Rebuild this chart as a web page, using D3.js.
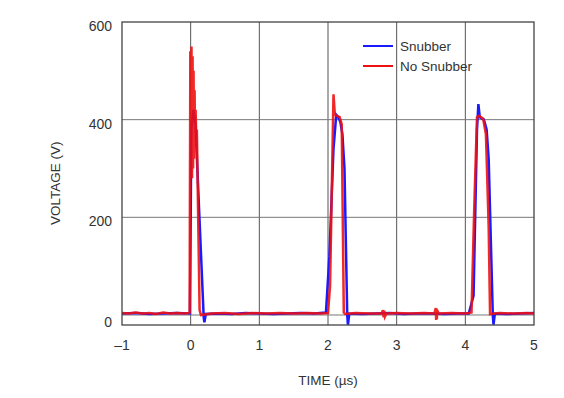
<!DOCTYPE html>
<html>
<head>
<meta charset="utf-8">
<script src="https://cdn.jsdelivr.net/npm/d3@7"></script>
<style>
  body { margin: 0; background: #fff; }
  text { font-family: "Liberation Sans", Arial, sans-serif; fill: #333; }
</style>
</head>
<body>
<svg id="chart" width="564" height="398"></svg>
<script>
// tick values / labels
const xTicks = [-1, 0, 1, 2, 3, 4, 5];
const xTickLabels = ['\u20131', '0', '1', '2', '3', '4', '5'];
const yTicks = [0, 200, 400, 600];

// Snubber trace (time in us, voltage in V)
const blueT = [-1, -0.8, -0.6, -0.4, -0.2, -0.01, 0.01, 0.04, 0.07, 0.19, 0.2, 0.22, 0.4, 0.6, 0.8, 1.0, 1.2, 1.4, 1.6, 1.8,
  1.97, 2.02, 2.08, 2.12, 2.15, 2.18, 2.21, 2.24, 2.28, 2.29, 2.31, 2.5, 2.7, 2.9, 3.1, 3.3, 3.5, 3.7, 3.9,
  4.05, 4.12, 4.17, 4.19, 4.21, 4.27, 4.31, 4.34, 4.40, 4.41, 4.43, 4.6, 4.8, 5];
const blueV = [3, 4, 2, 3, 4, 3, 380, 420, 390, -5, -15, 2, 3, 2, 4, 3, 2, 3, 4, 3,
  5, 120, 340, 410, 405, 395, 370, 300, 0, -20, 3, 2, 3, 4, 2, 3, 3, 2, 3,
  3, 40, 380, 432, 405, 400, 380, 320, 0, -20, 3, 2, 3, 4];

// No Snubber trace
const redT = [-1, -0.9, -0.8, -0.7, -0.6, -0.5, -0.4, -0.3, -0.2, -0.1, -0.03,
  -0.015, -0.005, 0.005, 0.012, 0.02, 0.028, 0.035, 0.042, 0.05, 0.057, 0.064, 0.072, 0.08, 0.09, 0.13, 0.15,
  0.3, 0.5, 0.7, 0.9, 1.1, 1.3, 1.5, 1.7, 1.9, 2.0, 2.03, 2.08, 2.1, 2.17, 2.2, 2.23, 2.25,
  2.4, 2.6, 2.78, 2.8, 2.81, 2.82, 2.83, 2.85, 3.0, 3.2, 3.4, 3.55, 3.57, 3.575, 3.58, 3.585, 3.59, 3.61,
  3.8, 4.0, 4.09, 4.13, 4.17, 4.2, 4.26, 4.3, 4.34, 4.36, 4.5, 4.7, 4.9, 5];
const redV = [4, 3, 5, 3, 4, 2, 5, 3, 4, 3, 4,
  5, 540, 290, 550, 280, 530, 300, 500, 320, 460, 350, 420, 370, 380, 10, 0,
  3, 4, 2, 4, 3, 4, 3, 4, 3, 4, 60, 452, 410, 405, 390, 5, 2,
  4, 3, 3, 10, -5, 9, -3, 3, 4, 3, 4, 3, 14, -10, 13, -8, 10, 3,
  4, 3, 5, 220, 405, 408, 402, 370, 180, 2, 4, 3, 4, 3];

const legendNames = ['Snubber', 'No Snubber'];
const legendColors = ['#1a1aff', '#ee1111'];

const svg = d3.select('#chart');
const margin = { top: 22, right: 30, bottom: 73, left: 122 };
const width = 564 - margin.left - margin.right;
const height = 398 - margin.top - margin.bottom;

const x = d3.scaleLinear().domain([-1, 5]).range([0, width]);
const y = d3.scaleLinear().domain([-20.5, 600]).range([height, 0]);

const g = svg.append('g').attr('transform', `translate(${margin.left},${margin.top})`);

// grid
g.selectAll('.vgrid').data(xTicks.slice(1, -1)).enter().append('line')
  .attr('x1', d => x(d)).attr('x2', d => x(d))
  .attr('y1', 0).attr('y2', height)
  .attr('stroke', '#555').attr('stroke-width', 1);
g.selectAll('.hgrid').data(yTicks.slice(0, -1)).enter().append('line')
  .attr('x1', 0).attr('x2', width)
  .attr('y1', d => y(d)).attr('y2', d => y(d))
  .attr('stroke', '#777').attr('stroke-width', 1);

// traces
const line = d3.line().x(d => x(d[0])).y(d => y(d[1]));
const blueData = blueT.map((t, i) => [t, blueV[i]]);
const redData = redT.map((t, i) => [t, redV[i]]);

g.append('path').datum(blueData).attr('d', line)
  .attr('fill', 'none').attr('stroke', legendColors[0]).attr('stroke-width', 2.5);
g.append('path').datum(redData).attr('d', line)
  .attr('fill', 'none').attr('stroke', legendColors[1]).attr('stroke-width', 2.5)
  .attr('stroke-opacity', 0.9);

// frame
g.append('rect').attr('width', width).attr('height', height)
  .attr('fill', 'none').attr('stroke', '#444').attr('stroke-width', 1.3);

// tick labels
g.selectAll('.xl').data(xTicks).enter().append('text')
  .attr('x', d => x(d)).attr('y', height + 25)
  .attr('text-anchor', 'middle').attr('font-size', 14)
  .text((d, i) => xTickLabels[i]);
g.selectAll('.yl').data(yTicks).enter().append('text')
  .attr('x', -10).attr('y', d => y(d) + (d === 0 ? 12 : 9))
  .attr('text-anchor', 'end').attr('font-size', 14)
  .text(d => d);

// axis titles
g.append('text').attr('x', width / 2).attr('y', height + 60)
  .attr('text-anchor', 'middle').attr('font-size', 13.5).text('TIME (\u00b5s)');
g.append('text')
  .attr('transform', `translate(${-62},${y(270)}) rotate(-90)`)
  .attr('text-anchor', 'middle').attr('font-size', 13.5).text('VOLTAGE (V)');

// legend
const lg = g.append('g').attr('transform', `translate(${363 - margin.left},${46 - margin.top})`);
legendNames.forEach((name, i) => {
  lg.append('line').attr('x1', 0).attr('x2', 30).attr('y1', i * 20).attr('y2', i * 20)
    .attr('stroke', legendColors[i]).attr('stroke-width', 2);
  lg.append('text').attr('x', 37).attr('y', i * 20 + 5).attr('font-size', 13.5).text(name);
});
</script>
</body>
</html>
